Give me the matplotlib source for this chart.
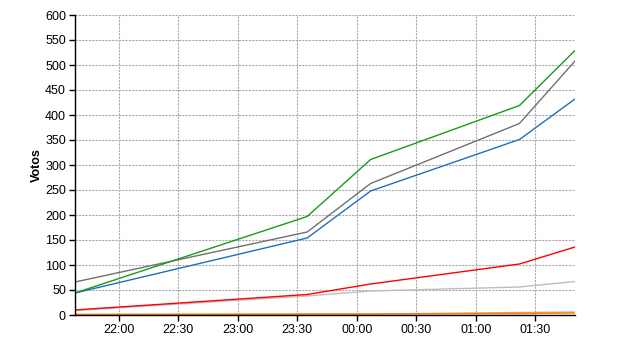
import matplotlib
matplotlib.use("Agg")
import matplotlib.pyplot as plt
import matplotlib.dates as mdates
import pandas as pd

times = pd.to_datetime(["2011-05-22 21:38", "2011-05-22 23:35", "2011-05-23 00:07",
                        "2011-05-23 01:22", "2011-05-23 01:50"])
green = [44, 197, 311, 419, 529]
grey = [66, 166, 263, 383, 508]
blue = [44, 154, 248, 351, 432]
red = [10, 41, 62, 102, 136]
silver = [9, 38, 48, 56, 67]
salmon = [1, 1, 2, 5, 6]
orange = [1, 2, 2, 3, 4]

series = [
    (silver, "#c8b8c0"),
    (salmon, "#f0a080"),
    (orange, "#f08000"),
    (red, "#ff0000"),
    (blue, "#1f6fc0"),
    (grey, "#707070"),
    (green, "#1a9a1a"),
]

plt.rcParams['font.family'] = ['Liberation Sans', 'DejaVu Sans']
fig = plt.figure(figsize=(6.4, 3.5), dpi=100)
ax = fig.add_axes([75/640, 1-315/350, 500/640, 300/350])

for vals, c in series:
    ax.plot(times, vals, color=c, lw=1.0)

ax.set_ylim(0, 600)
ax.set_yticks(range(0, 601, 50))
ax.set_xlim(times[0], times[-1])
ax.xaxis.set_major_locator(mdates.MinuteLocator(byminute=[0, 30]))
ax.xaxis.set_major_formatter(mdates.DateFormatter("%H:%M"))
ax.grid(True, color="#aca6b0", linestyle=(0, (2, 1)), linewidth=0.8)
ax.set_axisbelow(True)
for s in ["top", "right"]:
    ax.spines[s].set_visible(False)
ax.spines["left"].set_linewidth(1.0)
ax.spines["bottom"].set_linewidth(1.0)
ax.tick_params(labelsize=9, length=4, width=1, colors="black", pad=2.5)
ax.set_ylabel("Votos", fontsize=9, fontweight="bold")
ax.yaxis.set_label_coords(-0.065, 0.5)

fig.savefig("out.png", dpi=100)
